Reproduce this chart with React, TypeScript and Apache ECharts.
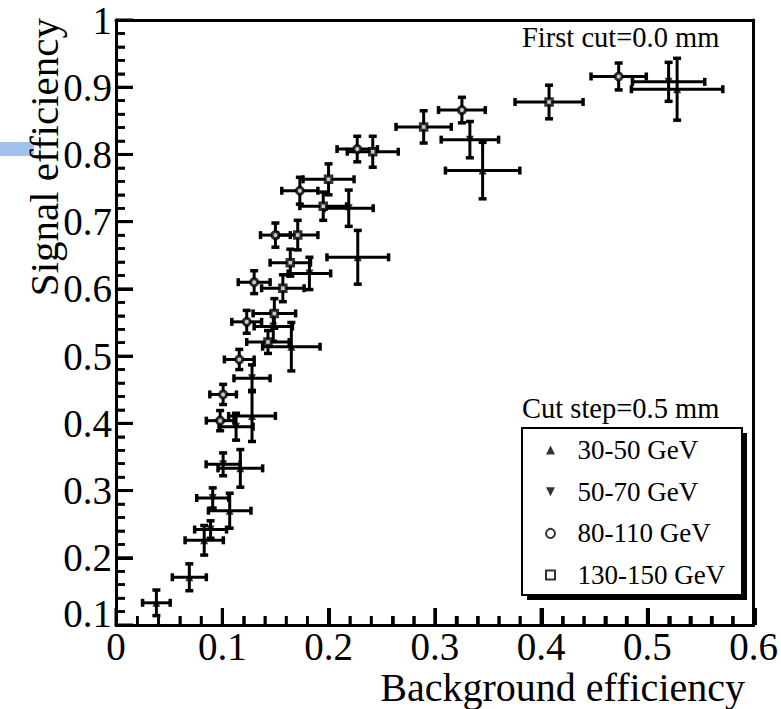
import { useEffect, useRef } from "react";
import * as echarts from "echarts";

// [x, y, xErr, yErr]
type Pt = [number, number, number, number];

const seriesNames = ["30-50 GeV", "50-70 GeV", "80-110 GeV", "130-150 GeV"];

const gev30to50: Pt[] = [
  [0.038, 0.133, 0.013, 0.019],
  [0.069, 0.171, 0.016, 0.02],
  [0.083, 0.226, 0.018, 0.022],
  [0.107, 0.27, 0.02, 0.026],
  [0.117, 0.333, 0.021, 0.028],
  [0.128, 0.411, 0.022, 0.038],
  [0.165, 0.514, 0.027, 0.036],
  [0.2275, 0.647, 0.029, 0.04],
  [0.345, 0.776, 0.035, 0.042],
  [0.528, 0.897, 0.043, 0.046],
];

const gev50to70: Pt[] = [
  [0.089, 0.242, 0.015, 0.013],
  [0.091, 0.289, 0.015, 0.015],
  [0.1008, 0.339, 0.016, 0.017],
  [0.113, 0.395, 0.016, 0.02],
  [0.128, 0.467, 0.017, 0.02],
  [0.148, 0.544, 0.018, 0.022],
  [0.182, 0.623, 0.02, 0.024],
  [0.219, 0.72, 0.023, 0.027],
  [0.333, 0.822, 0.027, 0.027],
  [0.52, 0.908, 0.034, 0.029],
];

const gev80to110: Pt[] = [
  [0.098, 0.404, 0.013, 0.015],
  [0.1008, 0.443, 0.0125, 0.015],
  [0.116, 0.495, 0.014, 0.015],
  [0.123, 0.551, 0.014, 0.017],
  [0.13, 0.61, 0.015, 0.017],
  [0.15, 0.68, 0.014, 0.018],
  [0.173, 0.746, 0.017, 0.02],
  [0.227, 0.808, 0.019, 0.019],
  [0.3255, 0.866, 0.022, 0.019],
  [0.473, 0.916, 0.026, 0.02],
];

const gev130to150: Pt[] = [
  [0.143, 0.521, 0.02, 0.017],
  [0.149, 0.5635, 0.02, 0.022],
  [0.157, 0.601, 0.02, 0.02],
  [0.164, 0.639, 0.019, 0.02],
  [0.171, 0.68, 0.019, 0.022],
  [0.195, 0.723, 0.022, 0.021],
  [0.2, 0.763, 0.024, 0.023],
  [0.2416, 0.804, 0.024, 0.023],
  [0.2895, 0.841, 0.026, 0.024],
  [0.4075, 0.878, 0.032, 0.025],
];

const xRange = [0, 0.6];
const yRange = [0.1, 1];
const majorStep = 0.1;
const minorStep = 0.02;

const xAxisTitle = "Background efficiency";
const yAxisTitle = "Signal efficiency";
const noteTop = "First cut=0.0 mm";
const noteLegend = "Cut step=0.5 mm";

const FONT = "Liberation Serif, serif";

// tick positions along each axis (axis structure, multiples of the minor step)
const xMajorTicks: number[] = [];
const xMinorTicks: number[] = [];
for (let i = 0; i <= 30; i++) (i % 5 === 0 ? xMajorTicks : xMinorTicks).push(+(i * minorStep).toFixed(2));
const yMajorTicks: number[] = [];
const yMinorTicks: number[] = [];
for (let i = 5; i <= 50; i++) (i % 5 === 0 ? yMajorTicks : yMinorTicks).push(+(i * minorStep).toFixed(2));

const MAJOR_LEN = 17;
const MINOR_LEN = 9;

const tickLines = (api: any) => {
  const out: any[] = [];
  const add = (vals: number[], isX: boolean, len: number, w: number) => {
    vals.forEach((v) => {
      const p = isX ? api.coord([v, yRange[0]]) : api.coord([xRange[0], v]);
      out.push({
        type: "line",
        shape: isX
          ? { x1: p[0], y1: p[1], x2: p[0], y2: p[1] - len }
          : { x1: p[0], y1: p[1], x2: p[0] + len, y2: p[1] },
        style: { stroke: "#000", lineWidth: w },
      });
    });
  };
  add(xMajorTicks, true, MAJOR_LEN, 3);
  add(xMinorTicks, true, MINOR_LEN, 2.5);
  add(yMajorTicks, false, MAJOR_LEN, 3);
  add(yMinorTicks, false, MINOR_LEN, 2.5);
  return out;
};

const makeRenderErr = (withTicks: boolean) => (params: any, api: any) => {
  const x = api.value(0);
  const y = api.value(1);
  const ex = api.value(2);
  const ey = api.value(3);
  const l = api.coord([x - ex, y]);
  const r = api.coord([x + ex, y]);
  const t = api.coord([x, y + ey]);
  const b = api.coord([x, y - ey]);
  const st = { stroke: "#000", lineWidth: 3 };
  const cs = { stroke: "#000", lineWidth: 3.5 };
  const c = 4;
  const children: any[] = [
    { type: "line", shape: { x1: l[0], y1: l[1], x2: r[0], y2: r[1] }, style: st },
    { type: "line", shape: { x1: t[0], y1: t[1], x2: b[0], y2: b[1] }, style: st },
    { type: "line", shape: { x1: l[0], y1: l[1] - c, x2: l[0], y2: l[1] + c }, style: cs },
    { type: "line", shape: { x1: r[0], y1: r[1] - c, x2: r[0], y2: r[1] + c }, style: cs },
    { type: "line", shape: { x1: t[0] - c, y1: t[1], x2: t[0] + c, y2: t[1] }, style: cs },
    { type: "line", shape: { x1: b[0] - c, y1: b[1], x2: b[0] + c, y2: b[1] }, style: cs },
  ];
  if (withTicks && params.dataIndex === 0) children.push(...tickLines(api));
  return { type: "group", children };
};

const datasets: Pt[][] = [gev30to50, gev50to70, gev80to110, gev130to150];
const symbols = [
  "path://M5,0L10,10L0,10Z",
  "path://M0,0L10,0L5,10Z",
  "circle",
  "path://M0,0H10V10H0Z",
];
const symbolSizes = [8, 8, 7, 6.5];
const itemStyles: any[] = [
  { color: "#000" },
  { color: "#000" },
  { color: "#fff", borderColor: "#000", borderWidth: 3 },
  { color: "#fff", borderColor: "#000", borderWidth: 3 },
];

export default function App() {
  const ref = useRef<HTMLDivElement>(null);
  useEffect(() => {
    if (!ref.current) return;
    const chart = echarts.init(ref.current, undefined, { renderer: "svg" });
    const series: any[] = [];
    datasets.forEach((d, i) => {
      series.push({
        name: "err " + seriesNames[i],
        type: "custom",
        renderItem: makeRenderErr(i === 0),
        data: d,
        encode: { x: 0, y: 1 },
        xAxisIndex: 0,
        yAxisIndex: 0,
        z: 2,
        clip: false,
        silent: true,
      });
    });
    datasets.forEach((d, i) => {
      series.push({
        name: seriesNames[i],
        type: "scatter",
        data: d.map((p) => [p[0], p[1]]),
        xAxisIndex: 0,
        yAxisIndex: 0,
        symbol: symbols[i],
        symbolSize: symbolSizes[i],
        symbolKeepAspect: true,
        itemStyle: itemStyles[i],
        z: 3,
        silent: true,
      });
    });
    const labelStyle = {
      show: true,
      color: "#000",
      fontFamily: FONT,
      fontSize: 39,
      lineHeight: 34,
      margin: 4,
      showMinLabel: true,
      showMaxLabel: true,
    };
    const mainAxis = (min: number, max: number, position: string, gridIndex: number) => ({
      type: "value",
      gridIndex,
      min,
      max,
      interval: majorStep,
      position,
      axisLine: { show: true, onZero: false, lineStyle: { color: "#000", width: 3 } },
      axisTick: { show: true, inside: true, length: MAJOR_LEN, lineStyle: { color: "#000", width: 3 } },
      splitLine: { show: false },
      axisLabel: { ...labelStyle },
    });
    const frameAxis = (min: number, max: number, position: string, gridIndex: number) => ({
      type: "value",
      gridIndex,
      min,
      max,
      interval: majorStep,
      position,
      axisLine: { show: true, onZero: false, lineStyle: { color: "#000", width: 3 } },
      axisTick: { show: false },
      splitLine: { show: false },
      axisLabel: { show: false },
    });
    // thin strips whose split lines act as the inner tick marks
    const stripAxis = (min: number, max: number, step: number, width: number, gridIndex: number, show: boolean) => ({
      type: "value",
      gridIndex,
      min,
      max,
      interval: step,
      axisLine: { show: false },
      axisTick: { show: false },
      axisLabel: { show: false },
      splitLine: { show, lineStyle: { color: "#000", width } },
    });
    const yMain: any = mainAxis(yRange[0], yRange[1], "left", 0);
    yMain.axisLabel.formatter = (v: number) =>
      Math.abs(v - yRange[0]) < 1e-9 ? "{low|" + String(+v.toFixed(1)) + "}" : String(+v.toFixed(1));
    yMain.axisLabel.rich = {
      low: { fontFamily: FONT, fontSize: 39, color: "#000", padding: [0, 0, 24, 0] },
    };
    chart.setOption({
      animation: false,
      grid: [
        { left: 116, right: 26, top: 20, bottom: 84 },
        { left: 116, right: 26, top: 608, bottom: 84 },
        { left: 116, right: 26, top: 616, bottom: 84 },
        { left: 116, width: MAJOR_LEN, top: 20, bottom: 84 },
        { left: 116, width: MINOR_LEN, top: 20, bottom: 84 },
      ],
      xAxis: [
        mainAxis(xRange[0], xRange[1], "bottom", 0),
        frameAxis(xRange[0], xRange[1], "top", 0),
        stripAxis(xRange[0], xRange[1], majorStep, 3, 1, true),
        stripAxis(xRange[0], xRange[1], minorStep, 2.5, 2, true),
        stripAxis(0, 1, 1, 1, 3, false),
        stripAxis(0, 1, 1, 1, 4, false),
      ],
      yAxis: [
        yMain,
        frameAxis(yRange[0], yRange[1], "right", 0),
        stripAxis(0, 1, 1, 1, 1, false),
        stripAxis(0, 1, 1, 1, 2, false),
        stripAxis(yRange[0], yRange[1], majorStep, 3, 3, true),
        stripAxis(yRange[0], yRange[1], minorStep, 2.5, 4, true),
      ],
      legend: {
        data: seriesNames,
        orient: "vertical",
        left: 545,
        top: 435,
        padding: 0,
        itemWidth: 44,
        itemHeight: 9,
        itemGap: 11.7,
        symbolKeepAspect: true,
        selectedMode: false,
        z: 10,
        textStyle: { fontFamily: FONT, fontSize: 27, color: "#000", lineHeight: 30 },
      },
      graphic: [
        {
          type: "rect",
          shape: { x: 0, y: 142, width: 34, height: 14 },
          style: { fill: "#a2c1ec" },
        },
        {
          type: "rect",
          z: 5,
          shape: { x: 527, y: 433, width: 220, height: 167 },
          style: { fill: "#000" },
        },
        {
          type: "rect",
          z: 6,
          shape: { x: 522, y: 428, width: 220, height: 167 },
          style: { fill: "#fff", stroke: "#000", lineWidth: 2 },
        },
        {
          type: "text",
          z: 7,
          x: 522,
          y: 37,
          style: { text: noteTop, fontFamily: FONT, fontSize: 28.5, fill: "#000", textAlign: "left", textVerticalAlign: "middle" },
        },
        {
          type: "text",
          z: 7,
          x: 522,
          y: 408,
          style: { text: noteLegend, fontFamily: FONT, fontSize: 28.5, fill: "#000", textAlign: "left", textVerticalAlign: "middle" },
        },
        {
          type: "text",
          z: 7,
          x: 745,
          y: 687,
          style: { text: xAxisTitle, fontFamily: FONT, fontSize: 40, fill: "#000", textAlign: "right", textVerticalAlign: "middle" },
        },
        {
          type: "text",
          z: 7,
          x: 44,
          y: 18,
          rotation: Math.PI / 2,
          style: { text: yAxisTitle, fontFamily: FONT, fontSize: 41, fill: "#000", textAlign: "right", textVerticalAlign: "middle" },
        },
      ],
      series,
    });
    return () => chart.dispose();
  }, []);
  return (
    <div
      ref={ref}
      style={{ position: "fixed", left: 0, top: 0, width: 781, height: 709, background: "#fff" }}
    />
  );
}
